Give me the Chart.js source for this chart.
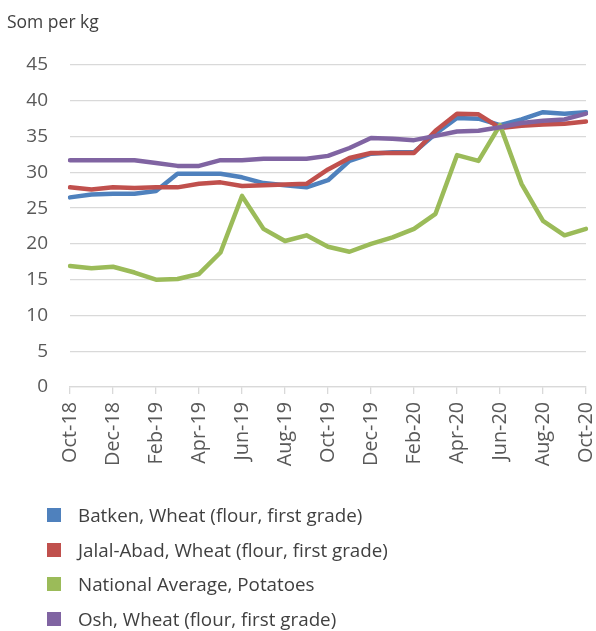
<!DOCTYPE html>
<html>
<head>
<meta charset="utf-8">
<script src="https://cdn.jsdelivr.net/npm/chart.js@4"></script>
<style>
  html, body { margin: 0; padding: 0; background: #ffffff; }
  #wrap { position: relative; width: 596px; height: 631px; overflow: hidden; }
  #legend { position: absolute; left: 0; top: 0; width: 596px; height: 631px; pointer-events: none;
            font-family: "Open Sans", sans-serif; font-size: 18.8px; color: #404040; }
  .lg-row { position: absolute; left: 0; height: 26px; line-height: 26px; white-space: nowrap; }
  .lg-box { position: absolute; left: 47px; top: 6px; width: 14px; height: 14px; }
  .lg-text { position: absolute; left: 78px; top: 0; }
</style>
</head>
<body>
<div id="wrap">
  <canvas id="c" width="596" height="631"></canvas>
  <div id="legend"></div>
</div>
<script>
const months = ['Oct-18','Nov-18','Dec-18','Jan-19','Feb-19','Mar-19','Apr-19','May-19','Jun-19','Jul-19','Aug-19','Sep-19','Oct-19','Nov-19','Dec-19','Jan-20','Feb-20','Mar-20','Apr-20','May-20','Jun-20','Jul-20','Aug-20','Sep-20','Oct-20'];
const seriesNames = ['Batken, Wheat (flour, first grade)', 'Jalal-Abad, Wheat (flour, first grade)', 'National Average, Potatoes', 'Osh, Wheat (flour, first grade)'];
const batken   = [26.5, 26.9, 27.0, 27.0, 27.4, 29.8, 29.8, 29.8, 29.3, 28.5, 28.2, 27.9, 28.9, 31.6, 32.6, 32.8, 32.8, 35.4, 37.6, 37.5, 36.6, 37.4, 38.4, 38.2, 38.4];
const jalalAbad = [27.9, 27.6, 27.9, 27.8, 27.9, 27.9, 28.4, 28.6, 28.1, 28.2, 28.3, 28.4, 30.4, 32.0, 32.7, 32.7, 32.7, 35.8, 38.2, 38.1, 36.2, 36.5, 36.7, 36.8, 37.1];
const potatoes = [16.9, 16.6, 16.8, 16.0, 15.0, 15.1, 15.8, 18.8, 26.7, 22.1, 20.4, 21.2, 19.6, 18.9, 20.0, 20.9, 22.1, 24.2, 32.4, 31.6, 36.6, 28.4, 23.2, 21.2, 22.1];
const osh      = [31.7, 31.7, 31.7, 31.7, 31.3, 30.9, 30.9, 31.7, 31.7, 31.9, 31.9, 31.9, 32.3, 33.4, 34.8, 34.7, 34.5, 35.1, 35.7, 35.8, 36.3, 36.9, 37.2, 37.4, 38.2];
const yTicks = [0, 5, 10, 15, 20, 25, 30, 35, 40, 45];
const yTitle = 'Som per kg';

const colors = ['#4F81BD', '#C0504D', '#9BBB59', '#8064A2'];
const values = [batken, jalalAbad, potatoes, osh];

const datasets = values.map((v, i) => ({
  label: seriesNames[i],
  data: v,
  borderColor: colors[i],
  backgroundColor: colors[i],
  borderWidth: 4.5,
  pointRadius: 0,
  pointHoverRadius: 0,
  tension: 0,
  fill: false,
  borderCapStyle: 'round',
  borderJoinStyle: 'round',
  order: values.length - i
}));

const FONT = '"Open Sans", sans-serif';

const chart = new Chart(document.getElementById('c'), {
  type: 'line',
  data: { labels: months, datasets },
  options: {
    responsive: false,
    animation: false,
    devicePixelRatio: 1,
    layout: { padding: { left: 7, right: 10, top: 0, bottom: 161 } },
    plugins: {
      legend: { display: false },
      tooltip: { enabled: false },
      title: {
        display: true,
        text: yTitle,
        align: 'start',
        color: '#404040',
        font: { family: FONT, size: 17.5, weight: 'normal' },
        padding: { top: 13, bottom: 31 }
      }
    },
    scales: {
      x: {
        type: 'category',
        offset: false,
        afterFit: s => { s.height = 83; s.paddingRight = 0; s.paddingLeft = 0; },
        grid: {
          drawOnChartArea: false,
          drawTicks: true,
          tickLength: 7,
          lineWidth: 1.3,
          tickColor: ctx => (ctx.index % 2 === 0 ? '#d9d9d9' : 'rgba(0,0,0,0)'),
          color: '#d9d9d9'
        },
        border: { display: true, color: '#d9d9d9', width: 1.3 },
        ticks: {
          autoSkip: false,
          minRotation: 90,
          maxRotation: 90,
          padding: 8,
          color: '#595959',
          font: { family: FONT, size: 19.8 },
          callback: function (val, idx) { return idx % 2 === 0 ? this.getLabelForValue(val) : ''; }
        }
      },
      y: {
        min: yTicks[0],
        max: yTicks[yTicks.length - 1],
        afterFit: s => { s.width = 63; },
        afterBuildTicks: s => { s.ticks = yTicks.map(v => ({ value: v })); },
        grid: { drawTicks: false, color: '#d9d9d9', lineWidth: 1.3 },
        border: { display: false },
        ticks: {
          padding: 22,
          color: '#595959',
          font: { family: FONT, size: 19 }
        }
      }
    }
  }
});

// HTML legend built from the chart's datasets
const legendEl = document.getElementById('legend');
const rowCenters = [515, 549.5, 584, 618.5];
chart.data.datasets.forEach((ds, i) => {
  const row = document.createElement('div');
  row.className = 'lg-row';
  row.style.top = (rowCenters[i] - 13) + 'px';
  const box = document.createElement('span');
  box.className = 'lg-box';
  box.style.background = ds.borderColor;
  const txt = document.createElement('span');
  txt.className = 'lg-text';
  txt.textContent = ds.label;
  row.appendChild(box);
  row.appendChild(txt);
  legendEl.appendChild(row);
});
</script>
</body>
</html>
